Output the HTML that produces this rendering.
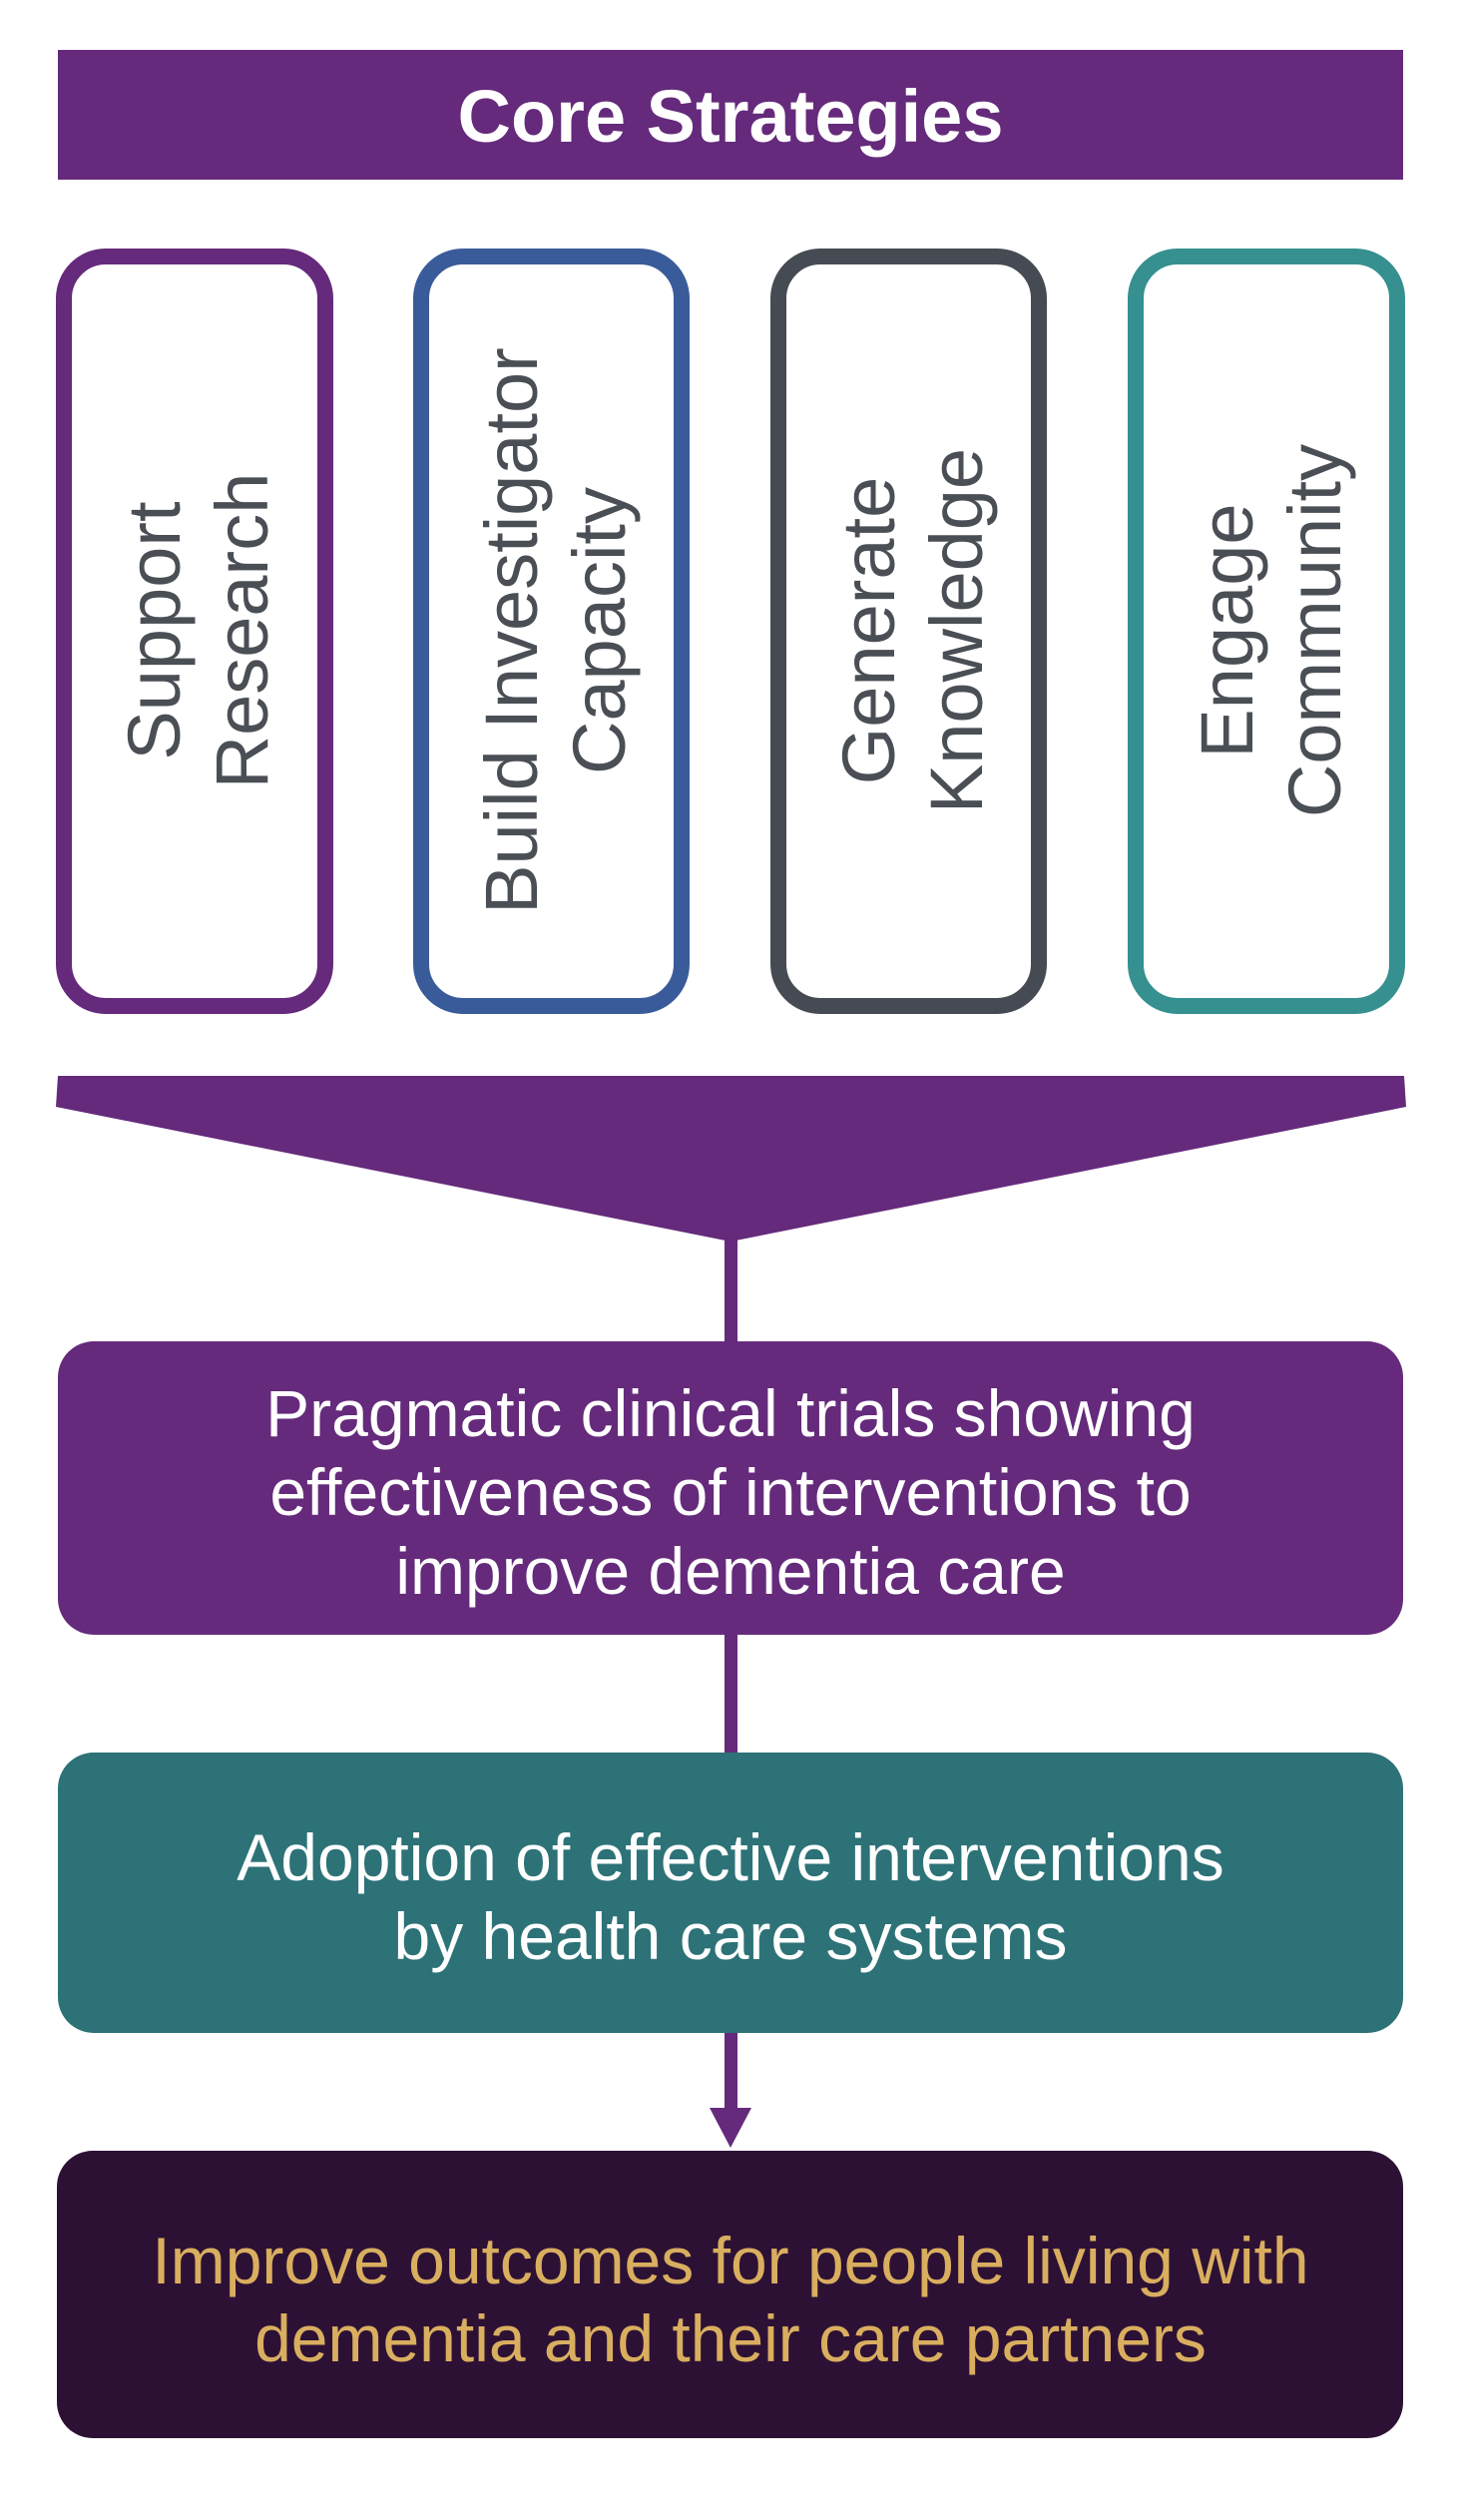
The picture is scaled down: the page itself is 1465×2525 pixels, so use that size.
<!DOCTYPE html>
<html><head><meta charset="utf-8"><style>html,body{margin:0;padding:0;background:#fff}svg{display:block}</style></head>
<body>
<svg width="1465" height="2525" viewBox="0 0 1465 2525" xmlns="http://www.w3.org/2000/svg" font-family="Liberation Sans, Arial, sans-serif">
<rect x="58" y="50" width="1348" height="130" fill="#652a7b"/>
<text x="732" y="142" font-size="74" font-weight="bold" fill="#fff" text-anchor="middle">Core Strategies</text>
<g fill="#fff" stroke-width="16">
<rect x="64" y="257" width="262" height="751" rx="42" stroke="#652a7b"/>
<rect x="422" y="257" width="261" height="751" rx="42" stroke="#3a5b9a"/>
<rect x="780" y="257" width="261" height="751" rx="42" stroke="#464b53"/>
<rect x="1138" y="257" width="262" height="751" rx="42" stroke="#35908f"/>
</g>
<g font-size="74" fill="#4a4e55" text-anchor="middle">
<text transform="translate(180,632) rotate(-90)">Support</text>
<text transform="translate(268,632) rotate(-90)">Research</text>
<text transform="translate(538,632) rotate(-90)">Build Investigator</text>
<text transform="translate(626,632) rotate(-90)">Capacity</text>
<text transform="translate(896,632) rotate(-90)">Generate</text>
<text transform="translate(984,632) rotate(-90)">Knowledge</text>
<text transform="translate(1255,632) rotate(-90)">Engage</text>
<text transform="translate(1343,632) rotate(-90)">Community</text>
</g>
<polygon points="58,1078 1407,1078 1409,1109 732,1244 56,1109" fill="#652a7b"/>
<rect x="726" y="1240" width="13" height="110" fill="#652a7b"/>
<rect x="726" y="1630" width="13" height="130" fill="#652a7b"/>
<rect x="726" y="2030" width="13" height="88" fill="#652a7b"/>
<polygon points="711,2112 753,2112 732,2152" fill="#652a7b"/>
<rect x="58" y="1344" width="1348" height="294" rx="36" fill="#652a7b"/>
<rect x="58" y="1756" width="1348" height="281" rx="36" fill="#2c7277"/>
<rect x="57" y="2155" width="1349" height="288" rx="36" fill="#2d1135"/>
<g font-size="66" fill="#fff" text-anchor="middle">
<text x="732" y="1439">Pragmatic clinical trials showing</text>
<text x="732" y="1518">effectiveness of interventions to</text>
<text x="732" y="1597">improve dementia care</text>
<text x="732" y="1884">Adoption of effective interventions</text>
<text x="732" y="1963">by health care systems</text>
</g>
<g font-size="66" fill="#d9ae5f" text-anchor="middle">
<text x="732" y="2288">Improve outcomes for people living with</text>
<text x="732" y="2366">dementia and their care partners</text>
</g>
</svg>
</body></html>
